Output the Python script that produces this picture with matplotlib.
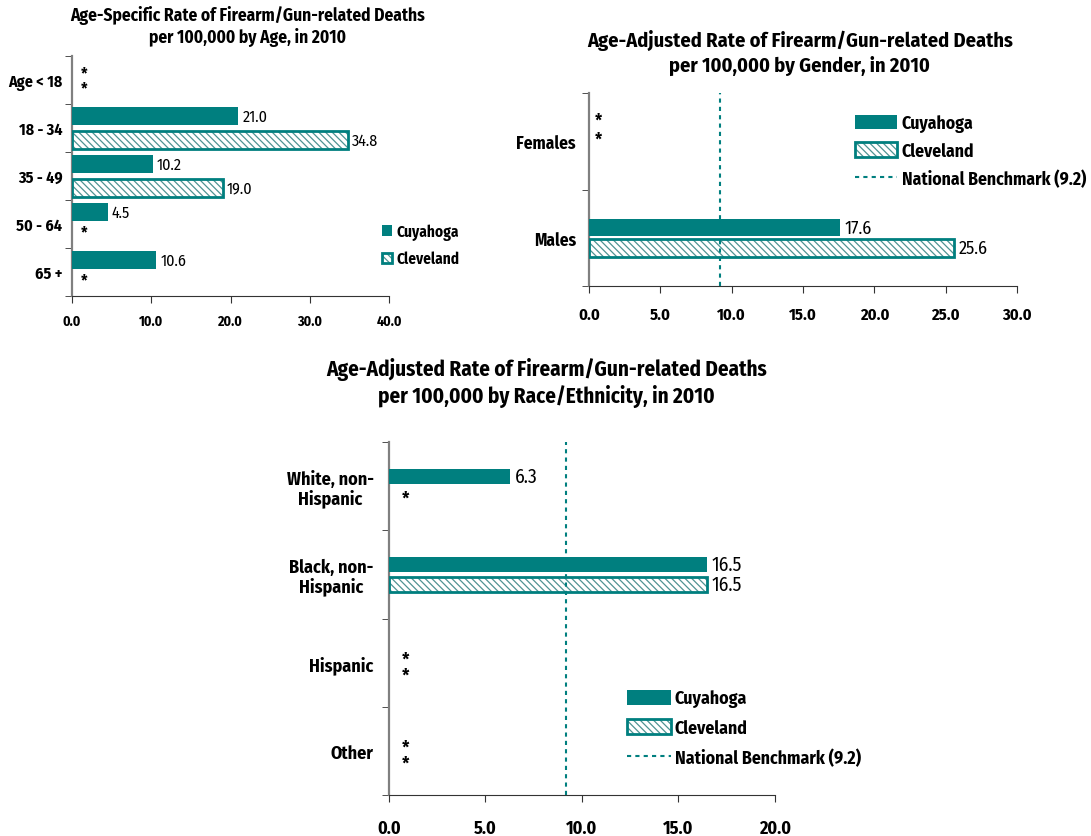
import numpy as np
import matplotlib
matplotlib.use("Agg")
import matplotlib.pyplot as plt
from matplotlib.patches import Patch
from matplotlib.lines import Line2D

plt.rcParams["font.family"] = ["Fira Sans Condensed", "Roboto Condensed", "PT Sans Narrow",
                               "DejaVu Sans"]
plt.rcParams["hatch.linewidth"] = 0.9

TEAL = "#007f7f"
HATCH_C = "#4f9393"
HATCH = "\\" * 5

# --- data ---
age_groups = ["Age < 18", "18 - 34", "35 - 49", "50 - 64", "65 +"]
age_cuy = [None, 21.0, 10.2, 4.5, 10.6]
age_cle = [None, 34.8, 19.0, None, None]

genders = ["Females", "Males"]
gen_cuy = [None, 17.6]
gen_cle = [None, 25.6]

races = ["White, non-\nHispanic", "Black, non-\nHispanic", "Hispanic", "Other"]
race_cuy = [6.3, 16.5, None, None]
race_cle = [None, 16.5, None, None]

benchmark = 9.2
series = ["Cuyahoga", "Cleveland", "National Benchmark (9.2)"]


def draw(ax, cats, cuy, cle, off, h, star_off, xmax, step, star_x, fs_x, fs_y, fs_val,
         ypad, xpad):
    n = len(cats)
    y = np.arange(n)
    for i in range(n):
        for j, v in enumerate((cuy[i], cle[i])):
            yy = y[i] + (off if j else -off)
            if v is None:
                ax.text(star_x, y[i] + star_off[j], "*", ha="center", va="center",
                        fontsize=fs_y, fontweight="bold")
                continue
            if j == 0:
                ax.barh(yy, v, height=h, color=TEAL, lw=0, zorder=3)
            else:
                ax.barh(yy, v, height=h, color="white", edgecolor=HATCH_C, hatch=HATCH,
                        lw=0, zorder=3)
                ax.barh(yy, v, height=h, fill=False, edgecolor=TEAL, lw=2, zorder=4)
            ax.annotate(f"{v:.1f}", (v, yy), xytext=(3, 0), textcoords="offset points",
                        va="center", ha="left", fontsize=fs_val)
    ax.set_ylim(n - 0.5, -0.5)
    ax.set_xlim(0, xmax)
    ticks = np.arange(0, xmax + 0.01, step)
    ax.set_xticks(ticks)
    ax.set_xticklabels([f"{t:.1f}" for t in ticks], fontweight="bold", fontsize=fs_x)
    ax.set_yticks(y)
    ax.set_yticklabels(cats, fontweight="bold", fontsize=fs_y, multialignment="center",
                       linespacing=1.05)
    ax.set_yticks(np.arange(n + 1) - 0.5, minor=True)
    ax.tick_params(axis="y", which="major", length=0, pad=ypad)
    ax.tick_params(axis="y", which="minor", length=5, direction="out", color="#333333")
    ax.tick_params(axis="x", length=5, direction="out", pad=xpad, color="#333333")
    for s in ("top", "right"):
        ax.spines[s].set_visible(False)
    ax.spines["left"].set_color("#808080")
    ax.spines["left"].set_linewidth(1.6)
    ax.spines["bottom"].set_color("#333333")


def handles(with_bench=True):
    hs = [Patch(facecolor=TEAL, edgecolor=TEAL, lw=0),
          (Patch(facecolor="white", edgecolor=HATCH_C, hatch=HATCH, lw=0),
           Patch(fill=False, edgecolor=TEAL, lw=2))]
    if with_bench:
        hs.append(Line2D([], [], color=TEAL, ls=(0, (2, 2)), lw=1.5))
    return hs


fig = plt.figure(figsize=(10.91, 8.37), dpi=100)

# age chart
ax1 = fig.add_axes([0.066, 0.6452, 0.2906, 0.2867])
draw(ax1, age_groups, age_cuy, age_cle, 0.25, 0.39, (-0.15, 0.17), 40, 10, 1.5,
     10, 11.5, 11.5, 7, 8)
fig.text(0.227, 0.982, "Age-Specific Rate of Firearm/Gun-related Deaths", ha="center",
         va="center", fontsize=12.5, fontweight="bold")
fig.text(0.227, 0.955, "per 100,000 by Age, in 2010", ha="center", va="center",
         fontsize=12.5, fontweight="bold")
fig.legend(handles(False), series[:2], loc="center left", bbox_to_anchor=(0.350, 0.7063),
           frameon=False, prop={"weight": "bold", "size": 11}, borderpad=0,
           borderaxespad=0, handlelength=0.65, handleheight=0.65, handletextpad=0.3,
           labelspacing=0.7)

# gender chart
ax2 = fig.add_axes([0.5399, 0.6571, 0.3923, 0.2306])
draw(ax2, genders, gen_cuy, gen_cle, 0.108, 0.18, (-0.21, -0.02), 30, 5, 0.65,
     11.8, 12.5, 13, 9.5, 9.5)
ax2.axvline(benchmark, color=TEAL, ls=(0, (2, 2)), lw=1.5, zorder=5)
fig.text(0.733, 0.952, "Age-Adjusted Rate of Firearm/Gun-related Deaths", ha="center",
         va="center", fontsize=14.6, fontweight="bold")
fig.text(0.733, 0.921, "per 100,000 by Gender, in 2010", ha="center", va="center",
         fontsize=14.6, fontweight="bold")
fig.legend(handles(), series, loc="center left", bbox_to_anchor=(0.7837, 0.8185),
           frameon=False, prop={"weight": "bold", "size": 12.7}, borderpad=0,
           borderaxespad=0, handlelength=2.4, handleheight=0.9, handletextpad=0.25,
           labelspacing=0.55)

# race chart
ax3 = fig.add_axes([0.3565, 0.049, 0.3535, 0.4217])
draw(ax3, races, race_cuy, race_cle, 0.11, 0.17, (-0.04, 0.145), 20, 5, 0.85,
     13, 13, 14, 11, 12)
ax3.axvline(benchmark, color=TEAL, ls=(0, (2, 2)), lw=1.5, zorder=5)
fig.text(0.501, 0.558, "Age-Adjusted Rate of Firearm/Gun-related Deaths", ha="center",
         va="center", fontsize=15.2, fontweight="bold")
fig.text(0.501, 0.526, "per 100,000 by Race/Ethnicity, in 2010", ha="center",
         va="center", fontsize=15.2, fontweight="bold")
fig.legend(handles(), series, loc="center left", bbox_to_anchor=(0.5747, 0.1290),
           frameon=False, prop={"weight": "bold", "size": 12.8}, borderpad=0,
           borderaxespad=0, handlelength=2.45, handleheight=0.9, handletextpad=0.25,
           labelspacing=0.65)

fig.savefig("out.png", dpi=100)
